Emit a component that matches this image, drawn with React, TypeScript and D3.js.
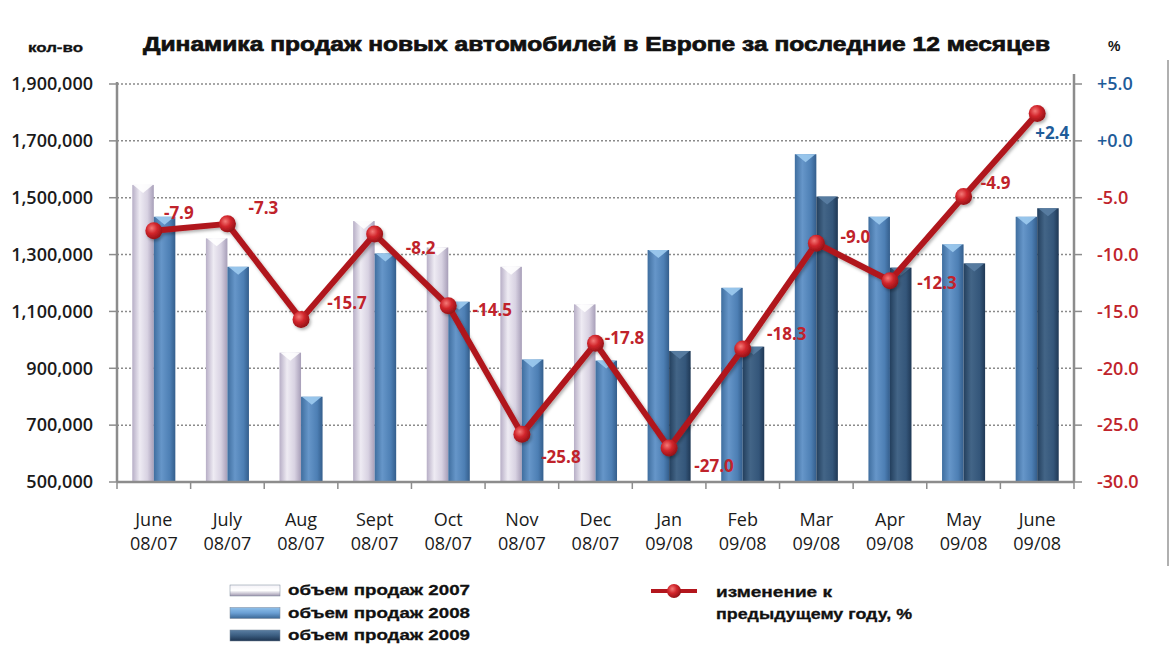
import React from "react";
import * as d3 from "d3";

const months = ["June|08/07", "July|08/07", "Aug|08/07", "Sept|08/07", "Oct|08/07", "Nov|08/07", "Dec|08/07", "Jan|09/08", "Feb|09/08", "Mar|09/08", "Apr|09/08", "May|09/08", "June|09/08"];
const sales2007: (number | null)[] = [1545000, 1357000, 955000, 1418000, 1325000, 1257000, 1125000, null, null, null, null, null, null];
const sales2008: (number | null)[] = [1433000, 1257000, 800000, 1304000, 1134000, 931000, 927000, 1316000, 1183000, 1653000, 1433000, 1336000, 1433000];
const sales2009: (number | null)[] = [null, null, null, null, null, null, null, 961000, 976000, 1504000, 1254000, 1269000, 1463000];
const changePct = [-7.9, -7.3, -15.7, -8.2, -14.5, -25.8, -17.8, -27.0, -18.3, -9.0, -12.3, -4.9, 2.4];
const leftTicks = [500000, 700000, 900000, 1100000, 1300000, 1500000, 1700000, 1900000];
const rightTicks = [5, 0, -5, -10, -15, -20, -25, -30];
const seriesNames = ["объем продаж 2007", "объем продаж 2008", "объем продаж 2009"];
const lineName = ["изменение к", "предыдущему году, %"];
const title = "Динамика продаж новых автомобилей в Европе за последние 12 месяцев";

// layout: label offsets relative to line points (dx, dy)
const labelOffsets = [[25, -18], [36, -16], [46, -16], [46, 14], [44, 4], [39, 23], [29, -5], [45, 18], [44, -15], [39, -6], [47, 2], [32, -14], [15, 19]];

const W = 1171, H = 666;
const X0 = 117, X1 = 1074, YT = 84, YB = 482;

const fillIds = ["g2007", "g2008", "g2009"];
const capColors = ["#ffffff", "#9dcbef", "#5a7ea3"];

export default function App() {
  const x = d3.scaleBand<number>().domain(d3.range(months.length)).range([X0, X1]).padding(0);
  const inner = d3.scaleBand<number>().domain([0, 1]).range([0, x.bandwidth()]).paddingInner(0).paddingOuter(0.71);
  const yL = d3.scaleLinear().domain([500000, 1900000]).range([YB, YT]);
  const yR = d3.scaleLinear().domain([-30, 5]).range([YB, YT]);
  const fmt = d3.format(",");
  const fmtR = (v: number) => (v >= 0 ? "+" : "-") + Math.abs(v).toFixed(1);

  const bars: { i: number; slot: number; s: number; v: number }[] = [];
  months.forEach((_, i) => {
    const present = [sales2007[i], sales2008[i], sales2009[i]]
      .map((v, s) => ({ v, s }))
      .filter((d) => d.v != null) as { v: number; s: number }[];
    present.forEach((d, slot) => bars.push({ i, slot, s: d.s, v: d.v }));
  });

  const cx = (i: number) => (x(i) as number) + x.bandwidth() / 2;
  const line = d3.line<number>().x((_, i) => cx(i)).y((d) => yR(d));
  const bw = inner.bandwidth();

  const red = "#c0232b";
  const blue = "#1f5c99";
  const numFont = "'Open Sans', sans-serif";
  const headFont = "'Liberation Sans', Arial, sans-serif";

  return (
    <svg width={W} height={H} style={{ position: "absolute", left: 0, top: 0, background: "#fff" }}>
      <defs>
        <linearGradient id="g2007" x1="0" x2="1" y1="0" y2="0">
          <stop offset="0" stopColor="#b7aec6" />
          <stop offset="0.35" stopColor="#eeebf3" />
          <stop offset="0.7" stopColor="#d8d2e2" />
          <stop offset="1" stopColor="#a79eb8" />
        </linearGradient>
        <linearGradient id="g2008" x1="0" x2="1" y1="0" y2="0">
          <stop offset="0" stopColor="#3f6e9f" />
          <stop offset="0.35" stopColor="#6696c9" />
          <stop offset="0.75" stopColor="#4d7fb4" />
          <stop offset="1" stopColor="#345e8c" />
        </linearGradient>
        <linearGradient id="g2009" x1="0" x2="1" y1="0" y2="0">
          <stop offset="0" stopColor="#233f5d" />
          <stop offset="0.35" stopColor="#436587" />
          <stop offset="0.75" stopColor="#34567a" />
          <stop offset="1" stopColor="#1f3855" />
        </linearGradient>
        <linearGradient id="l2007" x1="0" x2="0" y1="0" y2="1">
          <stop offset="0" stopColor="#f4f2f7" />
          <stop offset="0.5" stopColor="#ffffff" />
          <stop offset="1" stopColor="#9e96ae" />
        </linearGradient>
        <linearGradient id="l2008" x1="0" x2="0" y1="0" y2="1">
          <stop offset="0" stopColor="#8fc0ea" />
          <stop offset="0.5" stopColor="#6a9fd4" />
          <stop offset="1" stopColor="#3b6794" />
        </linearGradient>
        <linearGradient id="l2009" x1="0" x2="0" y1="0" y2="1">
          <stop offset="0" stopColor="#5b7fa4" />
          <stop offset="0.5" stopColor="#3b5d80" />
          <stop offset="1" stopColor="#1d3450" />
        </linearGradient>
        <radialGradient id="dot" cx="0.38" cy="0.35" r="0.7">
          <stop offset="0" stopColor="#f47a78" />
          <stop offset="0.45" stopColor="#d2262c" />
          <stop offset="1" stopColor="#8e0f14" />
        </radialGradient>
        <filter id="sh" x="-20%" y="-20%" width="140%" height="140%">
          <feDropShadow dx="1.5" dy="2" stdDeviation="1.5" floodColor="#000" floodOpacity="0.3" />
        </filter>
      </defs>

      {/* titles */}
      <text x={28} y={52} fontFamily={headFont} fontWeight="bold" fontSize={13} textLength={55} lengthAdjust="spacingAndGlyphs" fill="#111" stroke="#111" strokeWidth={0.3}>кол-во</text>
      <text x={143} y={51} fontFamily={headFont} fontWeight="bold" fontSize={20} textLength={907} lengthAdjust="spacingAndGlyphs" fill="#111" stroke="#111" strokeWidth={0.7}>{title}</text>
      <text x={1108} y={51} fontFamily={headFont} fontWeight="bold" fontSize={14} fill="#111">%</text>

      {/* gridlines */}
      {leftTicks.filter((t) => t !== 500000).map((t) => (
        <line key={"g" + t} x1={X0} x2={X1} y1={yL(t)} y2={yL(t)} stroke="#8a8a8a" strokeWidth={1.5} strokeDasharray="2,2" />
      ))}

      {/* bars */}
      {bars.map((b, k) => {
        const bx = (x(b.i) as number) + (inner(b.slot) as number);
        const top = yL(b.v);
        return (
          <g key={"b" + k}>
            <rect x={bx} y={top} width={bw} height={YB - top} fill={`url(#${fillIds[b.s]})`} />
            <polygon points={`${bx + 1},${top} ${bx + bw - 1},${top} ${bx + bw / 2},${top + 8}`} fill={capColors[b.s]} opacity={0.9} />
          </g>
        );
      })}

      {/* axes */}
      <line x1={X0} x2={X0} y1={YT - 2} y2={YB} stroke="#8c8c8c" strokeWidth={2.5} />
      <line x1={X1} x2={X1} y1={YT - 10} y2={YB} stroke="#8c8c8c" strokeWidth={2.5} />
      <line x1={X0} x2={X1} y1={YB} y2={YB} stroke="#8c8c8c" strokeWidth={2.5} />
      {leftTicks.map((t) => (
        <g key={"lt" + t}>
          <line x1={X0 - 8} x2={X0} y1={yL(t)} y2={yL(t)} stroke="#8c8c8c" strokeWidth={1.5} />
          <text x={93} y={yL(t)} dy="0.35em" textAnchor="end" fontFamily={numFont} fontWeight={600} fontSize={18} fill="#1a1a1a">{fmt(t)}</text>
        </g>
      ))}
      {rightTicks.map((t) => (
        <g key={"rt" + t}>
          <line x1={X1} x2={X1 + 8} y1={yR(t)} y2={yR(t)} stroke="#8c8c8c" strokeWidth={1.5} />
          <text x={1097} y={yR(t)} dy="0.35em" textAnchor="start" fontFamily={numFont} fontWeight={600} fontSize={18} fill={t >= 0 ? blue : red}>{fmtR(t)}</text>
        </g>
      ))}
      {d3.range(months.length + 1).map((i) => {
        const xx = X0 + i * x.step();
        return <line key={"xt" + i} x1={xx} x2={xx} y1={YB} y2={YB + 7} stroke="#8c8c8c" strokeWidth={1.5} />;
      })}
      {months.map((m, i) => {
        const [a, b] = m.split("|");
        return (
          <g key={"xl" + i} fontFamily={numFont} fontSize={18} fill="#1a1a1a" textAnchor="middle">
            <text x={cx(i)} y={520} dy="0.35em">{a}</text>
            <text x={cx(i)} y={544} dy="0.35em">{b}</text>
          </g>
        );
      })}

      {/* line */}
      <g filter="url(#sh)">
        <path d={line(changePct) || ""} fill="none" stroke="#b0151c" strokeWidth={6} strokeLinejoin="round" />
        {changePct.map((v, i) => (
          <circle key={"c" + i} cx={cx(i)} cy={yR(v)} r={8.5} fill="url(#dot)" />
        ))}
      </g>
      {changePct.map((v, i) => (
        <text key={"lab" + i} x={cx(i) + labelOffsets[i][0]} y={yR(v) + labelOffsets[i][1]} dy="0.35em" textAnchor="middle" fontFamily={numFont} fontWeight={700} fontSize={17} fill={v >= 0 ? blue : red}>
          {v >= 0 ? "+" + v.toFixed(1) : v.toFixed(1)}
        </text>
      ))}

      {/* right border */}
      <line x1={1168} x2={1168} y1={60} y2={566} stroke="#b0b0b0" strokeWidth={2} />

      {/* legend */}
      {seriesNames.map((n, s) => (
        <g key={"lg" + s}>
          <rect x={230} y={585 + s * 22.5} width={50} height={11} fill={`url(#l${2007 + s})`} stroke="#7a8698" strokeWidth={0.5} />
          <text x={288} y={590 + s * 22.5} dy="0.35em" fontFamily={headFont} fontWeight="bold" fontSize={15} textLength={182} lengthAdjust="spacingAndGlyphs" fill="#111" stroke="#111" strokeWidth={0.3}>{n}</text>
        </g>
      ))}
      <line x1={651} x2={697} y1={591} y2={591} stroke="#b3161d" strokeWidth={4} />
      <circle cx={674} cy={591} r={7} fill="url(#dot)" />
      <text x={716} y={592} dy="0.35em" fontFamily={headFont} fontWeight="bold" fontSize={15} textLength={116} lengthAdjust="spacingAndGlyphs" fill="#111" stroke="#111" strokeWidth={0.3}>{lineName[0]}</text>
      <text x={716} y={614} dy="0.35em" fontFamily={headFont} fontWeight="bold" fontSize={15} textLength={196} lengthAdjust="spacingAndGlyphs" fill="#111" stroke="#111" strokeWidth={0.3}>{lineName[1]}</text>
    </svg>
  );
}
